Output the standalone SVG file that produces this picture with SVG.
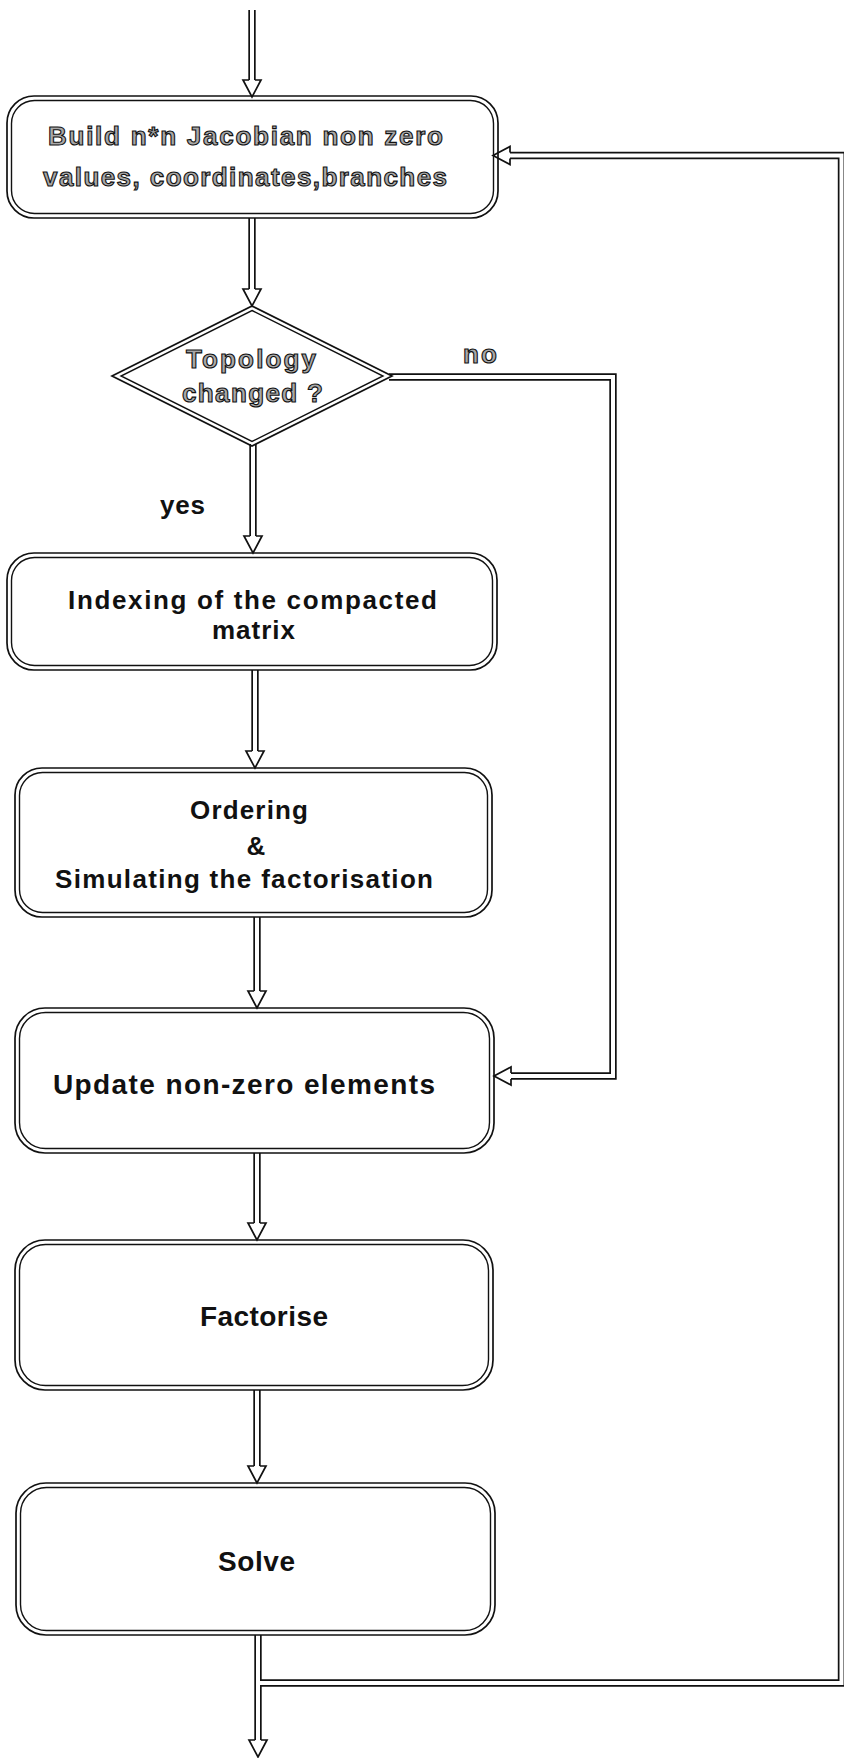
<svg xmlns="http://www.w3.org/2000/svg" xmlns:xlink="http://www.w3.org/1999/xlink" width="844" height="1758" viewBox="0 0 844 1758">
  <style>
    .bg { fill: #ffffff; }
    .frame { fill: none; stroke: #111; stroke-width: 1.7; }
    .frame-in { fill: none; stroke: #111; stroke-width: 1.4; }
    .wire-o { fill: none; stroke: #111; stroke-width: 7.4; stroke-linejoin: miter; }
    .wire-i { fill: none; stroke: #fff; stroke-width: 4; stroke-linejoin: miter; }
    .head { fill: #fff; stroke: #111; stroke-width: 1.7; stroke-linejoin: miter; }
    .lbl { font-family: "Liberation Sans", Arial, sans-serif; font-weight: bold; font-size: 26px; fill: #111; }
    .big { font-size: 28px; }
    .hollow { fill: #a8a8a8; stroke: #111; stroke-width: 1.1; }
  </style>
  <defs>
    <!-- open arrowhead pointing down, tip at the origin; shaft edges meet it at y=-17 -->
    <path id="ah" class="head" d="M-2.9,-17 L-9,-17 L0,0 L9,-17 L2.9,-17"/>
    <!-- connector centre lines -->
    <path id="w-in" d="M252,10 V80"/>
    <path id="w-1" d="M252,218 V289"/>
    <path id="w-2" d="M253,444 V536"/>
    <path id="w-3" d="M255,670 V751"/>
    <path id="w-4" d="M257,917 V991"/>
    <path id="w-5" d="M257,1153 V1223"/>
    <path id="w-6" d="M257,1390 V1466"/>
    <path id="w-out" d="M258,1635 V1740"/>
    <path id="w-no" d="M389,377 H613 V1076 H511"/>
    <path id="w-loop" d="M258,1683 H841.5 V155.5 H510"/>
  </defs>

  <rect class="bg" x="0" y="0" width="844" height="1758"/>

  <g id="connectors">
    <use xlink:href="#w-in" class="wire-o"/>
    <use xlink:href="#w-1" class="wire-o"/>
    <use xlink:href="#w-2" class="wire-o"/>
    <use xlink:href="#w-3" class="wire-o"/>
    <use xlink:href="#w-4" class="wire-o"/>
    <use xlink:href="#w-5" class="wire-o"/>
    <use xlink:href="#w-6" class="wire-o"/>
    <use xlink:href="#w-out" class="wire-o"/>
    <use xlink:href="#w-no" class="wire-o"/>
    <use xlink:href="#w-loop" class="wire-o"/>
    <use xlink:href="#w-in" class="wire-i"/>
    <use xlink:href="#w-1" class="wire-i"/>
    <use xlink:href="#w-2" class="wire-i"/>
    <use xlink:href="#w-3" class="wire-i"/>
    <use xlink:href="#w-4" class="wire-i"/>
    <use xlink:href="#w-5" class="wire-i"/>
    <use xlink:href="#w-6" class="wire-i"/>
    <use xlink:href="#w-out" class="wire-i"/>
    <use xlink:href="#w-no" class="wire-i"/>
    <use xlink:href="#w-loop" class="wire-i"/>
    <!-- arrowheads -->
    <use xlink:href="#ah" transform="translate(252,97)"/>
    <use xlink:href="#ah" transform="translate(252,306)"/>
    <use xlink:href="#ah" transform="translate(253,553)"/>
    <use xlink:href="#ah" transform="translate(255,768)"/>
    <use xlink:href="#ah" transform="translate(257,1008)"/>
    <use xlink:href="#ah" transform="translate(257,1240)"/>
    <use xlink:href="#ah" transform="translate(257,1483)"/>
    <use xlink:href="#ah" transform="translate(258,1757)"/>
    <use xlink:href="#ah" transform="translate(494,1076) rotate(90)"/>
    <use xlink:href="#ah" transform="translate(493,155.5) rotate(90)"/>
    <text class="lbl hollow" x="463" y="363" textLength="34" lengthAdjust="spacing">no</text>
    <text class="lbl" x="160" y="514" textLength="45" lengthAdjust="spacing">yes</text>
  </g>

  <g id="build">
    <rect class="frame" x="7" y="96" width="491" height="122" rx="27"/>
    <rect class="frame-in" x="11.5" y="100.5" width="482" height="113" rx="23"/>
    <text class="lbl hollow" x="48" y="145" textLength="395" lengthAdjust="spacing">Build n*n Jacobian non zero</text>
    <text class="lbl hollow" x="43" y="186" textLength="404" lengthAdjust="spacing">values, coordinates,branches</text>
  </g>

  <g id="topology">
    <polygon class="frame" points="252,306 392,376 252,446 112,376" fill="#fff"/>
    <polygon class="frame-in" points="252,310.5 383,376 252,441.5 121,376"/>
    <text class="lbl hollow" x="186" y="368" textLength="130" lengthAdjust="spacing">Topology</text>
    <text class="lbl hollow" x="182" y="402" textLength="141" lengthAdjust="spacing">changed ?</text>
  </g>

  <g id="indexing">
    <rect class="frame" x="7" y="553" width="490" height="117" rx="27"/>
    <rect class="frame-in" x="11.5" y="557.5" width="481" height="108" rx="23"/>
    <text class="lbl" x="68" y="609" textLength="369" lengthAdjust="spacing">Indexing of the compacted</text>
    <text class="lbl" x="212" y="639" textLength="83" lengthAdjust="spacing">matrix</text>
  </g>

  <g id="ordering">
    <rect class="frame" x="15" y="768" width="477" height="149" rx="27"/>
    <rect class="frame-in" x="19.5" y="772.5" width="468" height="140" rx="23"/>
    <text class="lbl" x="190" y="819" textLength="118" lengthAdjust="spacing">Ordering</text>
    <text class="lbl" x="256" y="855" font-size="18" text-anchor="middle">&amp;</text>
    <text class="lbl" x="55" y="888" textLength="378" lengthAdjust="spacing">Simulating the factorisation</text>
  </g>

  <g id="update">
    <rect class="frame" x="15" y="1008" width="479" height="145" rx="30"/>
    <rect class="frame-in" x="19.5" y="1012.5" width="470" height="136" rx="26"/>
    <text class="lbl big" x="53" y="1094" textLength="382" lengthAdjust="spacing">Update non-zero elements</text>
  </g>

  <g id="factorise">
    <rect class="frame" x="15" y="1240" width="478" height="150" rx="30"/>
    <rect class="frame-in" x="19.5" y="1244.5" width="469" height="141" rx="26"/>
    <text class="lbl big" x="200" y="1326" textLength="128" lengthAdjust="spacing">Factorise</text>
  </g>

  <g id="solve">
    <rect class="frame" x="16" y="1483" width="479" height="152" rx="30"/>
    <rect class="frame-in" x="20.5" y="1487.5" width="470" height="143" rx="26"/>
    <text class="lbl big" x="218" y="1571" textLength="77" lengthAdjust="spacing">Solve</text>
  </g>
</svg>
